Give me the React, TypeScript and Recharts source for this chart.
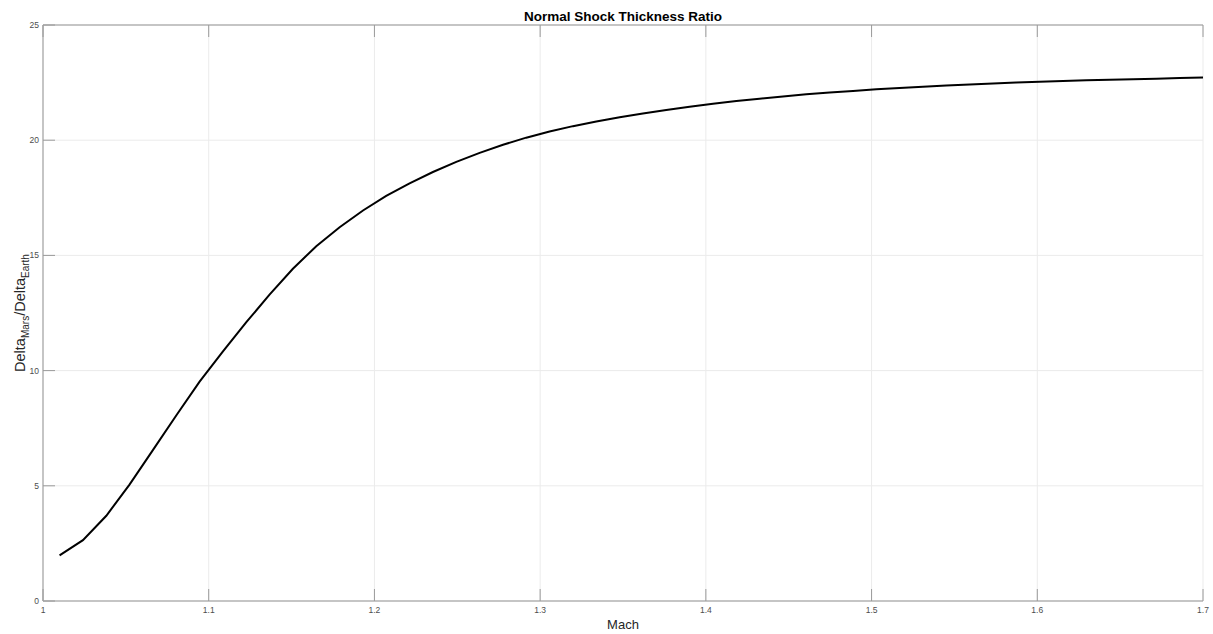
import { LineChart, Line, XAxis, YAxis, CartesianGrid, Label } from "recharts";

// Mach number samples (50 points between 1.01 and 1.7)
const machValues = [
  1.01, 1.0241, 1.0382, 1.0522, 1.0663, 1.0804, 1.0945, 1.1086, 1.1227, 1.1367,
  1.1508, 1.1649, 1.179, 1.1931, 1.2071, 1.2212, 1.2353, 1.2494, 1.2635, 1.2776,
  1.2916, 1.3057, 1.3198, 1.3339, 1.348, 1.362, 1.3761, 1.3902, 1.4043, 1.4184,
  1.4324, 1.4465, 1.4606, 1.4747, 1.4888, 1.5029, 1.5169, 1.531, 1.5451, 1.5592,
  1.5733, 1.5873, 1.6014, 1.6155, 1.6296, 1.6437, 1.6578, 1.6718, 1.6859, 1.7,
];

// Shock thickness ratio, Mars over Earth
const ratioValues = [
  1.98, 2.64, 3.7, 5.05, 6.55, 8.05, 9.52, 10.83, 12.1, 13.3,
  14.42, 15.4, 16.22, 16.95, 17.58, 18.13, 18.62, 19.06, 19.45, 19.8,
  20.11, 20.38, 20.61, 20.81, 21.0, 21.16, 21.31, 21.45, 21.58, 21.7,
  21.8, 21.9, 21.99, 22.07, 22.14, 22.21, 22.27, 22.32, 22.37, 22.42,
  22.46, 22.5, 22.54, 22.57, 22.6, 22.62, 22.65, 22.67, 22.7, 22.72,
];

const xTicks = [1, 1.1, 1.2, 1.3, 1.4, 1.5, 1.6, 1.7];
const yTicks = [0, 5, 10, 15, 20, 25];

const data = machValues.map((m, i) => ({ mach: m, ratio: ratioValues[i] }));

const FONT = "'Liberation Sans', Arial, Helvetica, sans-serif";
const BOX = "#b5b5b5";
const TICK = "#9a9a9a";
const GRID = "#ebebeb";
const TICK_LEN = 12;

const BottomTick = ({ x, y, payload }: any) => (
  <g>
    <line x1={x} x2={x} y1={y} y2={y - TICK_LEN} stroke={TICK} />
    <text x={x} y={y + 12} textAnchor="middle" fontSize={8.5} fontFamily={FONT} fill="#4d4d4d">
      {payload.value}
    </text>
  </g>
);

const TopTick = ({ x, y }: any) => (
  <line x1={x} x2={x} y1={y} y2={y + TICK_LEN} stroke={TICK} />
);

const LeftTick = ({ x, y, payload }: any) => (
  <g>
    <line x1={x} x2={x + TICK_LEN} y1={y} y2={y} stroke={TICK} />
    <text x={x - 4} y={y + 3} textAnchor="end" fontSize={8.5} fontFamily={FONT} fill="#4d4d4d">
      {payload.value}
    </text>
  </g>
);

const RightTick = ({ x, y }: any) => (
  <line x1={x} x2={x - TICK_LEN} y1={y} y2={y} stroke={TICK} />
);

const TitleLabel = ({ viewBox }: any) => (
  <text
    x={viewBox.x + viewBox.width / 2}
    y={viewBox.y + 20.5}
    textAnchor="middle"
    fontSize={13.5}
    fontWeight="bold"
    fontFamily={FONT}
    fill="#000"
  >
    Normal Shock Thickness Ratio
  </text>
);

const MachLabel = ({ viewBox }: any) => (
  <text
    x={viewBox.x + viewBox.width / 2}
    y={viewBox.y + 28}
    textAnchor="middle"
    fontSize={13}
    fontFamily={FONT}
    fill="#262626"
  >
    Mach
  </text>
);

// Rotated label with subscripts: Delta_Mars / Delta_Earth
const RatioLabel = ({ viewBox }: any) => {
  const bx = viewBox.x + 25;
  const cy = viewBox.y + viewBox.height / 2;
  return (
    <text
      x={bx}
      y={cy}
      transform={`rotate(-90, ${bx}, ${cy})`}
      textAnchor="middle"
      fontSize={14.5}
      fontFamily={FONT}
      fill="#262626"
    >
      <tspan>Delta</tspan>
      <tspan fontSize={10} dy={4}>Mars</tspan>
      <tspan dy={-4}>/Delta</tspan>
      <tspan fontSize={10} dy={4}>Earth</tspan>
    </text>
  );
};

export default function App() {
  return (
    <div style={{ position: "absolute", left: 0, top: 0, background: "#fff" }}>
      <LineChart width={1213} height={634} data={data} margin={{ top: 0, right: 10, bottom: 0, left: 0 }}>
        <CartesianGrid stroke={GRID} xAxisId="bottom" yAxisId="left" />
        <XAxis
          xAxisId="bottom"
          dataKey="mach"
          type="number"
          domain={[1, 1.7]}
          ticks={xTicks}
          allowDataOverflow
          height={33}
          tickSize={0}
          tickMargin={0}
          tickLine={false}
          axisLine={{ stroke: BOX, strokeWidth: 1.5 }}
          tick={BottomTick}
          interval={0}
        >
          <Label content={MachLabel} />
        </XAxis>
        <XAxis
          xAxisId="top"
          orientation="top"
          dataKey="mach"
          type="number"
          domain={[1, 1.7]}
          ticks={xTicks}
          allowDataOverflow
          height={25}
          tickSize={0}
          tickMargin={0}
          tickLine={false}
          axisLine={{ stroke: BOX, strokeWidth: 1.5 }}
          tick={TopTick}
          interval={0}
        >
          <Label content={TitleLabel} />
        </XAxis>
        <YAxis
          yAxisId="left"
          type="number"
          domain={[0, 25]}
          ticks={yTicks}
          allowDataOverflow
          width={43}
          tickSize={0}
          tickMargin={0}
          tickLine={false}
          axisLine={{ stroke: BOX, strokeWidth: 1.5 }}
          tick={LeftTick}
          interval={0}
        >
          <Label content={RatioLabel} />
        </YAxis>
        <YAxis
          yAxisId="right"
          orientation="right"
          type="number"
          domain={[0, 25]}
          ticks={yTicks}
          allowDataOverflow
          width={0}
          tickSize={0}
          tickMargin={0}
          tickLine={false}
          axisLine={{ stroke: BOX, strokeWidth: 1.5 }}
          tick={RightTick}
          interval={0}
        />
        <Line
          xAxisId="bottom"
          yAxisId="left"
          type="linear"
          dataKey="ratio"
          stroke="#000"
          strokeWidth={2}
          dot={false}
          isAnimationActive={false}
        />
      </LineChart>
    </div>
  );
}
